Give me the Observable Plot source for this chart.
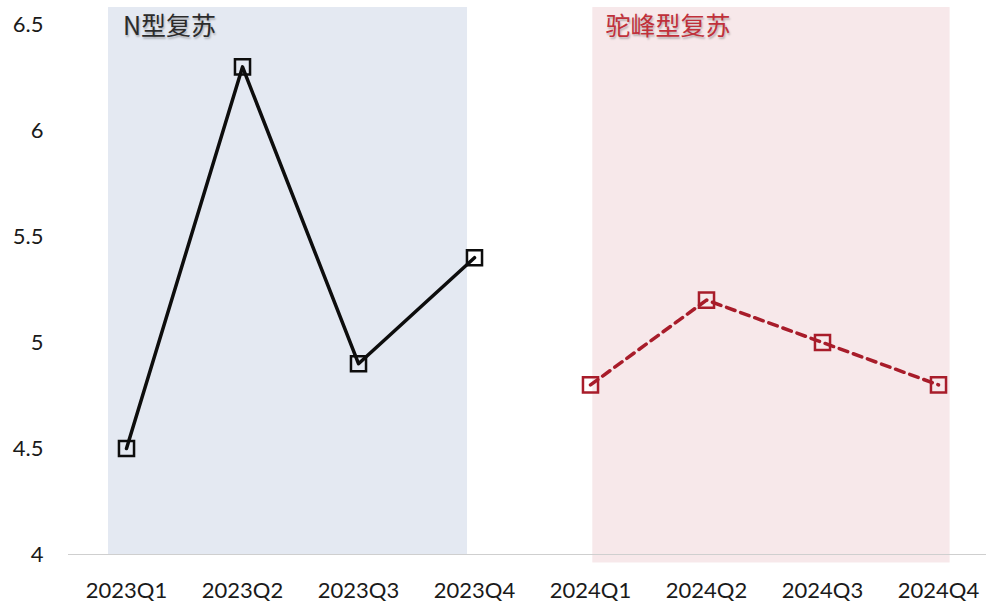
<!DOCTYPE html>
<html><head><meta charset="utf-8">
<script src="https://cdn.jsdelivr.net/npm/d3@7"></script>
<script src="https://cdn.jsdelivr.net/npm/@observablehq/plot@0.6"></script>
<style>
body{margin:0;background:#fff}
.rlabel text{ text-shadow: 1px 2px 2px rgba(0,0,0,0.25); }
</style>
</head><body><div id="chart"></div>
<script>
const quarters = ["2023Q1","2023Q2","2023Q3","2023Q4","2024Q1","2024Q2","2024Q3","2024Q4"];
const values2023 = [4.5, 6.3, 4.9, 5.4];
const values2024 = [4.8, 5.2, 5.0, 4.8];
const yTicks = [4, 4.5, 5, 5.5, 6, 6.5];
const regionLabels = ["N型复苏", "驼峰型复苏"];
const regionStart = [-0.155, 4.02];
const regionEnd = [2.94, 7.1];
const regionBottom = [4.0, 3.96];
const regionTop = 6.58;
const regionFills = ["#e4e9f2", "#f7e8ea"];
const labelColors = ["#2b2b2b", "#c0303a"];
const labelX = [-0.03, 4.13];
const labelY = 6.49;

const idx = quarters.map((q, i) => i);
const s1 = values2023.map((v, i) => ({x: i, y: v}));
const s2 = values2024.map((v, i) => ({x: i + 4, y: v}));
const regions = regionLabels.map((l, i) => ({
  label: l, x1: regionStart[i], x2: regionEnd[i], y1: regionBottom[i], y2: regionTop,
  fill: regionFills[i], color: labelColors[i], tx: labelX[i], ty: labelY
}));

const chart = Plot.plot({
  width: 986, height: 605,
  marginLeft: 126, marginRight: 48, marginTop: 24, marginBottom: 51,
  x: {domain: [0, 7], axis: null},
  y: {domain: [4, 6.5], axis: null},
  color: {type: "identity"},
  style: {fontFamily: "Lato, 'Noto Sans CJK SC', sans-serif", background: "white", color: "#1a1a1a"},
  marks: [
    Plot.rect(regions, {x1: "x1", x2: "x2", y1: "y1", y2: "y2", fill: "fill"}),
    Plot.ruleY([4], {x1: -0.5, x2: 7.5, stroke: "#cfcfcf", strokeWidth: 1.2}),
    Plot.axisY(yTicks, {tickSize: 0, tickPadding: 83, fontSize: 22, tickFormat: d => String(d), label: null, fill: "#1a1a1a"}),
    Plot.axisX(idx, {tickSize: 0, tickPadding: 28, fontSize: 22, tickFormat: i => quarters[i], label: null, fill: "#1a1a1a"}),
    Plot.line(s1, {x: "x", y: "y", stroke: "#0d0d0d", strokeWidth: 3.5}),
    Plot.dot(s1, {x: "x", y: "y", symbol: "square", r: 8.5, stroke: "#0d0d0d", strokeWidth: 2.5, fill: "none"}),
    Plot.line(s2, {x: "x", y: "y", stroke: "#a81c2a", strokeWidth: 3.5, strokeDasharray: "9,6"}),
    Plot.dot(s2, {x: "x", y: "y", symbol: "square", r: 8.5, stroke: "#a81c2a", strokeWidth: 2.5, fill: "none"}),
    Plot.text(regions, {x: "tx", y: "ty", text: "label", fill: "color", textAnchor: "start", fontSize: 25,
      fontFamily: "'Noto Sans CJK SC', sans-serif", className: "rlabel"})
  ]
});
document.getElementById("chart").appendChild(chart);
</script>
</body></html>
